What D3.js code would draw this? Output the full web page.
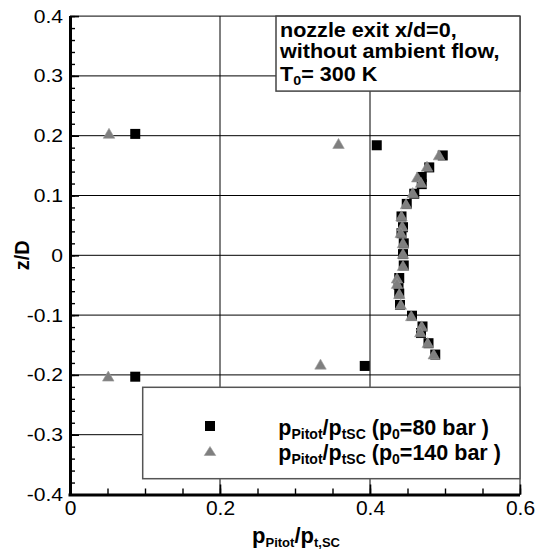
<!DOCTYPE html>
<html>
<head>
<meta charset="utf-8">
<script src="https://cdn.jsdelivr.net/npm/d3@7"></script>
<style>
  html, body { margin: 0; padding: 0; background: #fff; }
  svg { display: block; font-family: "Liberation Sans", Arial, Helvetica, sans-serif; }
</style>
</head>
<body>
<svg id="chart" width="537" height="556"></svg>
<script>
// Pitot pressure profile across the nozzle exit, two stagnation pressures
const seriesNames = ["p0 = 80 bar", "p0 = 140 bar"];

// p0 = 80 bar (squares)
const p80_x = [0.087, 0.409, 0.497, 0.479, 0.469, 0.469, 0.459, 0.449, 0.442, 0.444, 0.442, 0.445, 0.444,
               0.445, 0.439, 0.438, 0.439, 0.440, 0.456, 0.470, 0.468, 0.478, 0.487, 0.393, 0.087];
const p80_z = [0.203, 0.184, 0.167, 0.147, 0.131, 0.119, 0.103, 0.086, 0.065, 0.047, 0.037, 0.020, 0.002,
               -0.017, -0.038, -0.049, -0.064, -0.083, -0.101, -0.119, -0.130, -0.147, -0.166, -0.185, -0.203];

// p0 = 140 bar (triangles)
const p140_x = [0.052, 0.358, 0.492, 0.476, 0.463, 0.468, 0.457, 0.448, 0.442, 0.443, 0.441, 0.444, 0.444,
                0.444, 0.436, 0.436, 0.439, 0.441, 0.455, 0.469, 0.467, 0.477, 0.485, 0.334, 0.051];
const p140_z = [0.204, 0.187, 0.168, 0.149, 0.131, 0.122, 0.105, 0.086, 0.066, 0.049, 0.038, 0.021, 0.003,
                -0.017, -0.038, -0.047, -0.064, -0.082, -0.101, -0.118, -0.128, -0.146, -0.165, -0.182, -0.202];

// Axis ticks
const xMajorTicks = [0, 0.2, 0.4, 0.6];
const xTickLabels = ["0", "0.2", "0.4", "0.6"];
const yMajorTicks = [-0.4, -0.3, -0.2, -0.1, 0, 0.1, 0.2, 0.3, 0.4];
const yTickLabels = ["-0.4", "-0.3", "-0.2", "-0.1", "0", "0.1", "0.2", "0.3", "0.4"];
const xGrid = [0.2, 0.4];
const yGrid = [-0.3, -0.2, -0.1, 0, 0.1, 0.2, 0.3];

const svg = d3.select("#chart");
const FONT = '"Liberation Sans", Arial, Helvetica, sans-serif';

const x = d3.scaleLinear().domain([0, 0.6]).range([70, 520]);
const y = d3.scaleLinear().domain([-0.4, 0.4]).range([494.5, 16.1]);

const [x0, x1] = x.range();
const [yb, yt] = y.range();

// grid
const grid = svg.append("g");
grid.selectAll("line.h").data(yGrid).join("line")
  .attr("x1", x0).attr("x2", x1)
  .attr("y1", d => y(d)).attr("y2", d => y(d))
  .attr("stroke", "#000").attr("stroke-width", 1);
grid.selectAll("line.v").data(xGrid).join("line")
  .attr("x1", d => x(d)).attr("x2", d => x(d))
  .attr("y1", yt).attr("y2", yb)
  .attr("stroke", "#000").attr("stroke-width", 1);

// plot frame (top / right)
svg.append("line").attr("x1", x0).attr("x2", x1).attr("y1", yt).attr("y2", yt)
  .attr("stroke", "#000").attr("stroke-width", 1);
svg.append("line").attr("x1", x1).attr("x2", x1).attr("y1", yt).attr("y2", yb)
  .attr("stroke", "#333").attr("stroke-width", 1.2);

// annotation box
const ann = svg.append("g");
ann.append("rect").attr("x", 276).attr("y", yt).attr("width", x1 - 276).attr("height", 75)
  .attr("fill", "#fff").attr("stroke", "#444").attr("stroke-width", 1.5);
const annText = ann.append("text").attr("transform", "translate(280,0) scale(1.1,1)")
  .attr("font-family", FONT).attr("font-weight", "bold")
  .attr("font-size", 19.6).attr("fill", "#000");
annText.append("tspan").attr("x", 0).attr("y", 36.7).text("nozzle exit x/d=0,");
annText.append("tspan").attr("x", 0).attr("y", 58.5).text("without ambient flow,");
annText.append("tspan").attr("x", 0).attr("y", 81).text("T");
annText.append("tspan").attr("font-size", 13).attr("dy", 4).text("0");
annText.append("tspan").attr("dy", -4).text("= 300 K");

// markers
const triPath = (w, h) => `M${-w / 2},${h / 2}L0,${-h / 2}L${w / 2},${h / 2}Z`;
const SQ = 10;

const sq = svg.append("g");
sq.selectAll("rect").data(d3.range(p80_x.length)).join("rect")
  .attr("x", i => x(p80_x[i]) - SQ / 2)
  .attr("y", i => y(p80_z[i]) - SQ / 2)
  .attr("width", SQ).attr("height", SQ)
  .attr("fill", "#000");

const tri = svg.append("g");
tri.selectAll("path").data(d3.range(p140_x.length)).join("path")
  .attr("transform", i => `translate(${x(p140_x[i])},${y(p140_z[i])})`)
  .attr("d", triPath(11.5, 10))
  .attr("fill", "#7f7f7f").attr("stroke", "#999").attr("stroke-width", 0.6);

// legend
const leg = svg.append("g");
leg.append("rect").attr("x", 142.7).attr("y", 387.3).attr("width", x1 - 142.7).attr("height", 91.4)
  .attr("fill", "#fff").attr("stroke", "#555").attr("stroke-width", 1.5);
leg.append("rect").attr("x", 210 - SQ / 2).attr("y", 426 - SQ / 2).attr("width", SQ).attr("height", SQ)
  .attr("fill", "#000");
leg.append("path").attr("transform", "translate(210,451)").attr("d", triPath(11.5, 9))
  .attr("fill", "#7f7f7f").attr("stroke", "#999").attr("stroke-width", 0.6);

const legendLabels = [["80 bar )", 435], ["140 bar )", 460]];
legendLabels.forEach(([bar, by]) => {
  const t = leg.append("text").attr("x", 278.3).attr("y", by).attr("font-family", FONT)
    .attr("font-weight", "bold").attr("font-size", 21.5).attr("fill", "#000");
  t.append("tspan").text("p");
  t.append("tspan").attr("font-size", 14).attr("dy", 4).text("Pitot");
  t.append("tspan").attr("dy", -4).text("/p");
  t.append("tspan").attr("font-size", 14).attr("dy", 4).text("tSC");
  t.append("tspan").attr("dy", -4).text(" (p");
  t.append("tspan").attr("font-size", 14).attr("dy", 4).text("0");
  t.append("tspan").attr("dy", -4).text("=" + bar);
});

// axes
function styleAxis(g, width, size) {
  g.select(".domain").attr("stroke", "#000").attr("stroke-width", width);
  g.selectAll(".tick line").attr("stroke", "#000").attr("stroke-width", 1.6);
  g.selectAll(".tick text").attr("font-family", FONT).attr("font-size", size).attr("fill", "#000");
}

const yMinor = d3.range(-0.4, 0.4001, 0.02).map(v => +v.toFixed(2));
svg.append("g").attr("transform", `translate(${x0},0)`)
  .call(d3.axisLeft(y).tickValues(yMinor).tickSize(-5).tickFormat(""))
  .call(g => { g.select(".domain").remove(); g.selectAll(".tick line").attr("stroke", "#000").attr("stroke-width", 1.4); });
const yAxis = svg.append("g").attr("transform", `translate(${x0},0)`)
  .call(d3.axisLeft(y).tickValues(yMajorTicks).tickSizeInner(-9).tickSizeOuter(0).tickPadding(7)
    .tickFormat((d, i) => yTickLabels[i]));
styleAxis(yAxis, 3, 18.5);
// slightly wide tick numerals on the z axis
yAxis.selectAll(".tick text").attr("x", 0).attr("transform", "translate(-7,0) scale(1.14,1)");

const xMinor = d3.range(0, 0.6001, 0.05).map(v => +v.toFixed(2));
svg.append("g").attr("transform", `translate(0,${yb})`)
  .call(d3.axisBottom(x).tickValues(xMinor).tickSize(-6).tickFormat(""))
  .call(g => { g.select(".domain").remove(); g.selectAll(".tick line").attr("stroke", "#000").attr("stroke-width", 1.4); });
const xAxis = svg.append("g").attr("transform", `translate(0,${yb})`)
  .call(d3.axisBottom(x).tickValues(xMajorTicks).tickSizeInner(-10).tickSizeOuter(0).tickPadding(6)
    .tickFormat((d, i) => xTickLabels[i]));
styleAxis(xAxis, 3, 21);
xAxis.select(".domain").attr("d", `M${x0 - 1.5},0.5H${x1}`);
yAxis.select(".domain").attr("d", `M0.5,${yt}V${yb + 1.5}`);

// axis titles
const xt = svg.append("text").attr("x", 296).attr("y", 543).attr("text-anchor", "middle")
  .attr("font-family", FONT).attr("font-weight", "bold").attr("font-size", 22).attr("fill", "#000");
xt.append("tspan").text("p");
xt.append("tspan").attr("font-size", 13).attr("dy", 4).text("Pitot");
xt.append("tspan").attr("dy", -4).text("/p");
xt.append("tspan").attr("font-size", 13).attr("dy", 4).text("t,SC");

svg.append("text").attr("transform", `translate(29,${y(0)}) rotate(-90)`).attr("text-anchor", "middle")
  .attr("font-family", FONT).attr("font-weight", "bold").attr("font-size", 20).attr("fill", "#000")
  .text("z/D");
</script>
</body>
</html>
